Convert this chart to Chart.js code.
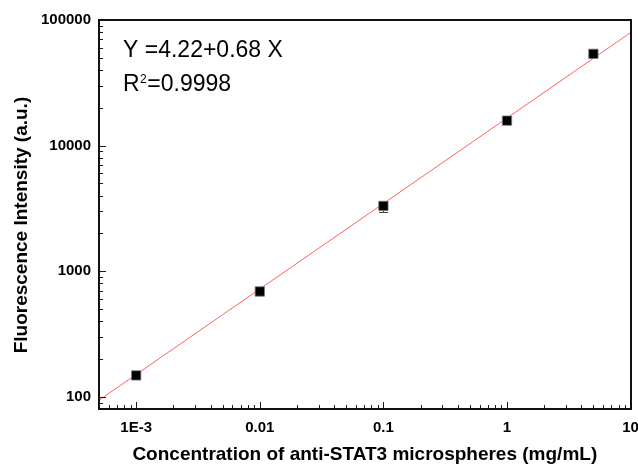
<!DOCTYPE html>
<html>
<head>
<meta charset="utf-8">
<script src="https://cdn.jsdelivr.net/npm/chart.js@4/dist/chart.umd.min.js"></script>
<style>
  html, body { margin: 0; padding: 0; background: #fff; }
  #wrap { position: relative; width: 638px; height: 466px; }
  canvas { display: block; }
  #frame { position: absolute; box-sizing: border-box; border: 2px solid #111; pointer-events: none; }
</style>
</head>
<body>
<div id="wrap">
<canvas id="c" width="638" height="466"></canvas>
<div id="frame"></div>
</div>
<script>
// ---- data ----
const xValues = [0.001, 0.01, 0.1, 1, 5];            // concentration (mg/mL)
const yValues = [148, 690, 3310, 15800, 53800];      // fluorescence intensity (a.u.)
const yErrors = [6, 25, 330, 700, 2000];             // error bars
const fitX = [0.0005, 10];                           // fitted line ends
const fitY = [94, 79400];
const xTickValues = [0.001, 0.01, 0.1, 1, 10];
const xTickLabels = ['1E-3', '0.01', '0.1', '1', '10'];
const yTickValues = [100, 1000, 10000, 100000];
const yTickLabels = ['100', '1000', '10000', '100000'];
const xTitle = 'Concentration of anti-STAT3 microspheres (mg/mL)';
const yTitle = 'Fluorescence Intensity (a.u.)    ';
const eqLine1 = 'Y =4.22+0.68 X';
const eqR = 'R';
const eqSup = '2';
const eqR2 = '=0.9998';
const xMin = 0.0005, xMax = 10, yMin = 80, yMax = 100000;

const FONT = "'Liberation Sans', Arial, sans-serif";

function logTicks(min, max) {
  const out = [];
  let e = Math.floor(Math.log10(min));
  while (Math.pow(10, e) <= max * 1.0001) {
    for (let m = 1; m <= 9; m++) {
      const v = m * Math.pow(10, e);
      if (v >= min * 0.9999 && v <= max * 1.0001) out.push({ value: v, major: m === 1 });
    }
    e++;
  }
  return out;
}
function labelFor(values, labels, v) {
  for (let i = 0; i < values.length; i++) {
    if (Math.abs(values[i] - v) / values[i] < 1e-6) return labels[i];
  }
  return '';
}

const scatterData = xValues.map((x, i) => ({ x: x, y: yValues[i] }));
const fitData = fitX.map((x, i) => ({ x: x, y: fitY[i] }));

const decorPlugin = {
  id: 'decor',
  afterDraw(chart) {
    const ctx = chart.ctx, a = chart.chartArea;
    const xs = chart.scales.x, ys = chart.scales.y;
    const L = Math.round(a.left), R = Math.round(a.right), T = Math.round(a.top), B = Math.round(a.bottom);
    // frame overlay positioned from the chart area
    const f = document.getElementById('frame');
    f.style.left = (L - 1) + 'px';
    f.style.top = (T - 1) + 'px';
    f.style.width = (R - L + 2) + 'px';
    f.style.height = (B - T + 2) + 'px';
    ctx.save();
    ctx.fillStyle = '#111';
    ctx.fillRect(L - 1, T - 1, R - L + 2, 2);
    ctx.fillRect(L - 1, B - 1, R - L + 2, 2);
    ctx.fillRect(L - 1, T - 1, 2, B - T + 2);
    ctx.fillRect(R - 1, T - 1, 2, B - T + 2);
    // inward ticks
    ctx.fillStyle = '#1a1a1a';
    xs.ticks.forEach(function (t) {
      const px = Math.round(xs.getPixelForValue(t.value));
      const len = t.major ? 7 : 4;
      ctx.fillRect(px, B - len, 1, len);
    });
    ys.ticks.forEach(function (t) {
      const py = Math.round(ys.getPixelForValue(t.value));
      const len = t.major ? 7 : 4;
      ctx.fillRect(L, py, len, 1);
    });
    // error bars (parts outside the markers)
    ctx.fillStyle = '#444';
    for (let i = 0; i < xValues.length; i++) {
      const px = Math.round(xs.getPixelForValue(xValues[i]));
      const py = Math.round(ys.getPixelForValue(yValues[i]));
      const top = Math.round(ys.getPixelForValue(yValues[i] + yErrors[i]));
      const bot = Math.round(ys.getPixelForValue(yValues[i] - yErrors[i]));
      if (py - 5 > top) {
        ctx.fillRect(px, top, 1, py - 5 - top);
        ctx.fillRect(px - 4, top, 9, 1);
      }
      if (bot > py + 5) {
        ctx.fillRect(px, py + 5, 1, bot - py - 5);
        ctx.fillRect(px - 4, bot, 9, 1);
      }
    }
    // equation text
    ctx.fillStyle = '#000';
    ctx.textBaseline = 'alphabetic';
    ctx.textAlign = 'left';
    const tx = L + 24;
    ctx.font = '23px ' + FONT;
    ctx.fillText(eqLine1, tx, T + 37);
    ctx.fillText(eqR, tx, T + 71);
    const rw = ctx.measureText(eqR).width;
    ctx.font = '12px ' + FONT;
    ctx.fillText(eqSup, tx + rw + 0.5, T + 63);
    const sw = ctx.measureText(eqSup).width;
    ctx.font = '23px ' + FONT;
    ctx.fillText(eqR2, tx + rw + sw + 1, T + 71);
    ctx.restore();
  }
};

new Chart(document.getElementById('c'), {
  type: 'scatter',
  data: {
    datasets: [
      { type: 'line', data: fitData, borderColor: 'rgba(255,70,70,0.85)', borderWidth: 1, pointRadius: 0, order: 2 },
      { data: scatterData, pointStyle: 'rect', pointRadius: 6.6, backgroundColor: '#000', borderColor: '#777', borderWidth: 0.8, order: 1 }
    ]
  },
  options: {
    responsive: false,
    animation: false,
    layout: { padding: { top: 20, right: 7, left: 0, bottom: 0 } },
    plugins: { legend: { display: false }, tooltip: { enabled: false } },
    scales: {
      x: {
        type: 'logarithmic', min: xMin, max: xMax,
        afterBuildTicks(s) { s.ticks = logTicks(xMin, xMax); },
        afterFit(s) { s.height = 57; s.paddingLeft = 0; s.paddingRight = 0; },
        grid: { display: false, drawTicks: false },
        border: { display: false },
        ticks: { autoSkip: false, maxRotation: 0, minRotation: 0, padding: 10, color: '#000',
          font: { family: FONT, size: 15, weight: 'bold' },
          callback: (v) => labelFor(xTickValues, xTickLabels, v) },
        title: { display: true, text: xTitle, color: '#000', font: { family: FONT, size: 19, weight: 'bold' }, padding: { top: 0, bottom: 0 } }
      },
      y: {
        type: 'logarithmic', min: yMin, max: yMax,
        afterBuildTicks(s) { s.ticks = logTicks(yMin, yMax); },
        afterFit(s) { s.width = 99; s.paddingTop = 0; s.paddingBottom = 0; },
        grid: { display: false, drawTicks: false },
        border: { display: false },
        ticks: { autoSkip: false, padding: 8, color: '#000',
          font: { family: FONT, size: 15, weight: 'bold' },
          callback: (v) => labelFor(yTickValues, yTickLabels, v) },
        title: { display: true, text: yTitle, color: '#000', font: { family: FONT, size: 19, weight: 'bold' }, padding: { top: 10, bottom: 0 } }
      }
    }
  },
  plugins: [decorPlugin]
});
</script>
</body>
</html>
